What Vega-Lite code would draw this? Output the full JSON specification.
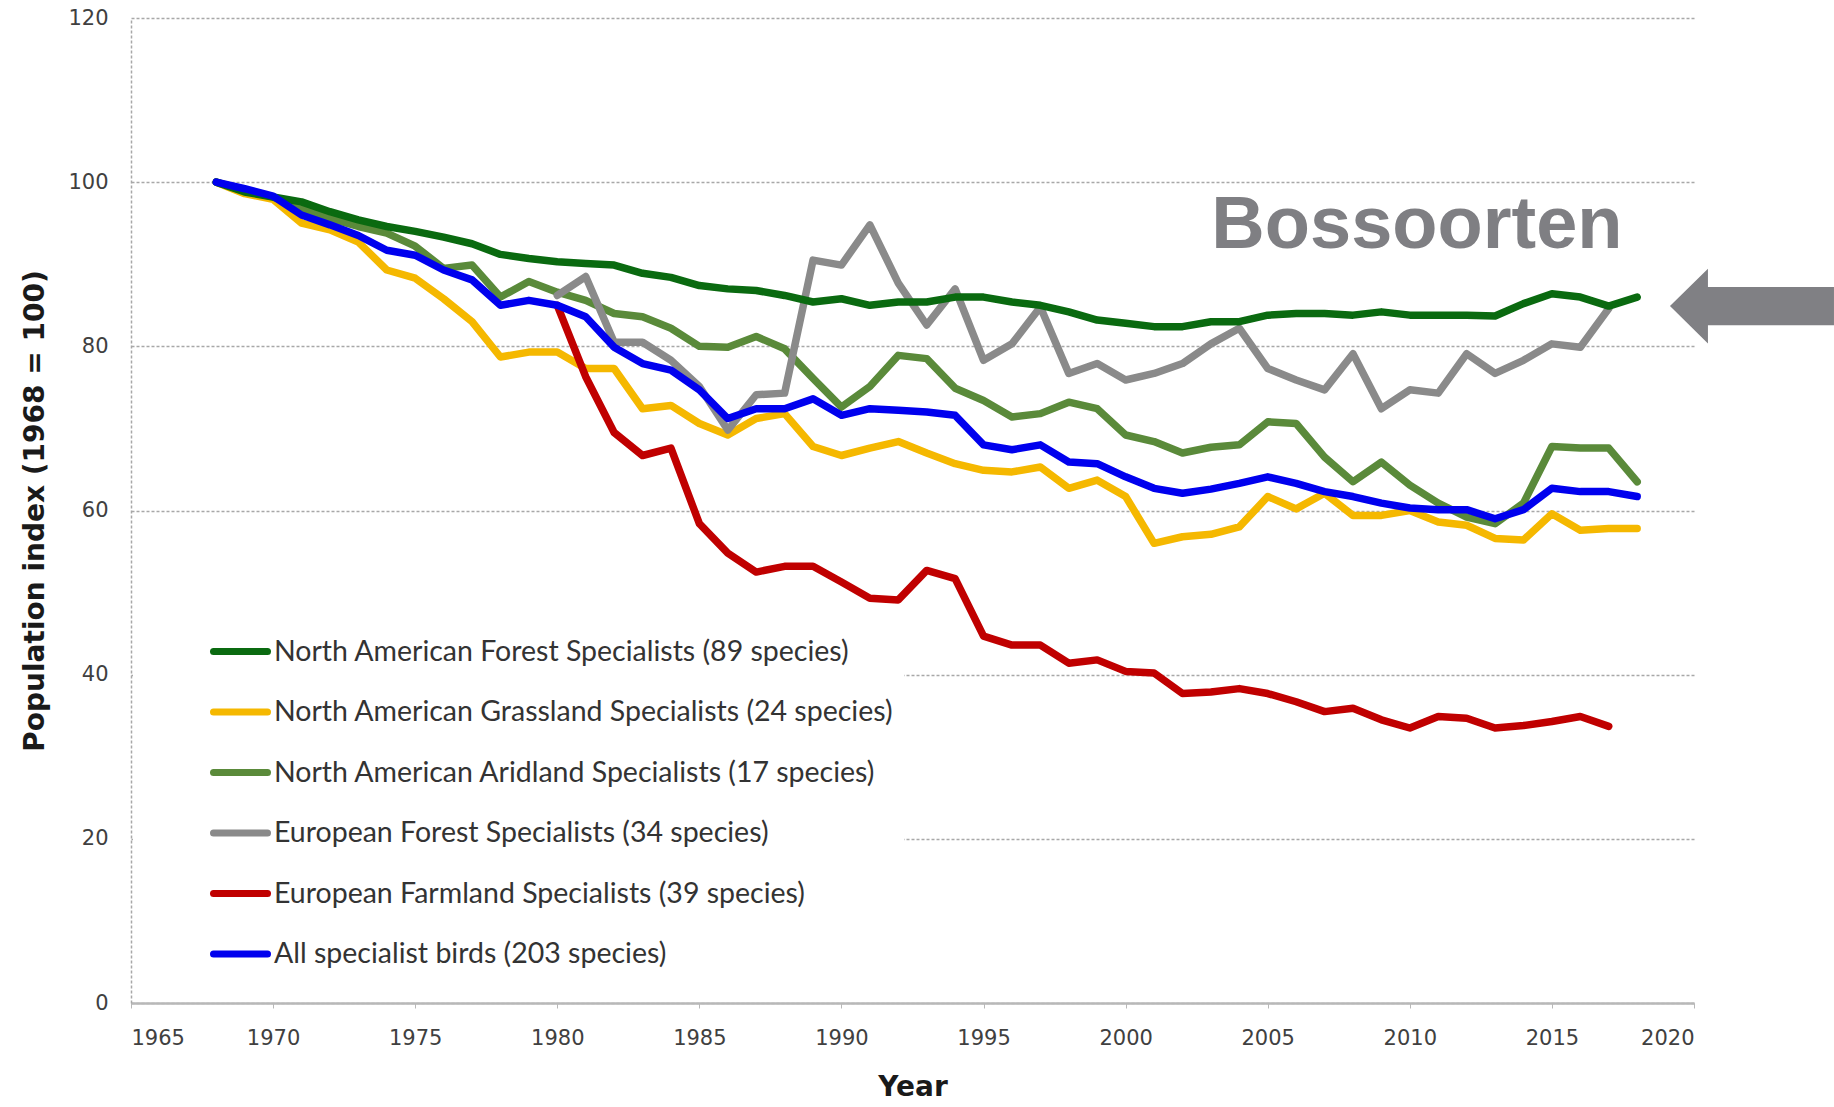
{
  "$schema": "https://vega.github.io/schema/vega-lite/v6.json",
  "width": 1563,
  "height": 985,
  "autosize": {"type": "none"},
  "padding": {"left": 131, "top": 18, "right": 140, "bottom": 104},
  "background": "white",
  "config": {"view": {"stroke": null}, "font": "DejaVu Sans"},
  "datasets": {
    "names": [
      {"k": "F", "name": "North American Forest Specialists (89 species)"},
      {"k": "G", "name": "North American Grassland Specialists (24 species)"},
      {"k": "A", "name": "North American Aridland Specialists (17 species)"},
      {"k": "E", "name": "European Forest Specialists (34 species)"},
      {"k": "R", "name": "European Farmland Specialists (39 species)"},
      {"k": "B", "name": "All specialist birds (203 species)"}
    ],
    "series": [
      {"k":"G","year":1968,"v":100},{"k":"G","year":1969,"v":98.6},{"k":"G","year":1970,"v":97.9},{"k":"G","year":1971,"v":95.0},{"k":"G","year":1972,"v":94.2},{"k":"G","year":1973,"v":92.7},{"k":"G","year":1974,"v":89.3},{"k":"G","year":1975,"v":88.3},{"k":"G","year":1976,"v":85.8},{"k":"G","year":1977,"v":83.0},{"k":"G","year":1978,"v":78.7},{"k":"G","year":1979,"v":79.3},{"k":"G","year":1980,"v":79.3},{"k":"G","year":1981,"v":77.3},{"k":"G","year":1982,"v":77.3},{"k":"G","year":1983,"v":72.4},{"k":"G","year":1984,"v":72.8},{"k":"G","year":1985,"v":70.6},{"k":"G","year":1986,"v":69.2},{"k":"G","year":1987,"v":71.2},{"k":"G","year":1988,"v":71.8},{"k":"G","year":1989,"v":67.8},{"k":"G","year":1990,"v":66.7},{"k":"G","year":1991,"v":67.6},{"k":"G","year":1992,"v":68.4},{"k":"G","year":1993,"v":67.0},{"k":"G","year":1994,"v":65.7},{"k":"G","year":1995,"v":64.9},{"k":"G","year":1996,"v":64.7},{"k":"G","year":1997,"v":65.3},{"k":"G","year":1998,"v":62.7},{"k":"G","year":1999,"v":63.7},{"k":"G","year":2000,"v":61.7},{"k":"G","year":2001,"v":56.0},{"k":"G","year":2002,"v":56.8},{"k":"G","year":2003,"v":57.1},{"k":"G","year":2004,"v":58.0},{"k":"G","year":2005,"v":61.7},{"k":"G","year":2006,"v":60.2},{"k":"G","year":2007,"v":62.1},{"k":"G","year":2008,"v":59.4},{"k":"G","year":2009,"v":59.4},{"k":"G","year":2010,"v":60.0},{"k":"G","year":2011,"v":58.6},{"k":"G","year":2012,"v":58.2},{"k":"G","year":2013,"v":56.6},{"k":"G","year":2014,"v":56.4},{"k":"G","year":2015,"v":59.6},{"k":"G","year":2016,"v":57.6},{"k":"G","year":2017,"v":57.8},{"k":"G","year":2018,"v":57.8},
      {"k":"R","year":1980,"v":85.0},{"k":"R","year":1981,"v":76.3},{"k":"R","year":1982,"v":69.5},{"k":"R","year":1983,"v":66.7},{"k":"R","year":1984,"v":67.6},{"k":"R","year":1985,"v":58.4},{"k":"R","year":1986,"v":54.8},{"k":"R","year":1987,"v":52.5},{"k":"R","year":1988,"v":53.2},{"k":"R","year":1989,"v":53.2},{"k":"R","year":1990,"v":51.3},{"k":"R","year":1991,"v":49.3},{"k":"R","year":1992,"v":49.1},{"k":"R","year":1993,"v":52.7},{"k":"R","year":1994,"v":51.7},{"k":"R","year":1995,"v":44.7},{"k":"R","year":1996,"v":43.6},{"k":"R","year":1997,"v":43.6},{"k":"R","year":1998,"v":41.4},{"k":"R","year":1999,"v":41.8},{"k":"R","year":2000,"v":40.4},{"k":"R","year":2001,"v":40.2},{"k":"R","year":2002,"v":37.7},{"k":"R","year":2003,"v":37.9},{"k":"R","year":2004,"v":38.3},{"k":"R","year":2005,"v":37.7},{"k":"R","year":2006,"v":36.7},{"k":"R","year":2007,"v":35.5},{"k":"R","year":2008,"v":35.9},{"k":"R","year":2009,"v":34.5},{"k":"R","year":2010,"v":33.5},{"k":"R","year":2011,"v":34.9},{"k":"R","year":2012,"v":34.7},{"k":"R","year":2013,"v":33.5},{"k":"R","year":2014,"v":33.8},{"k":"R","year":2015,"v":34.3},{"k":"R","year":2016,"v":34.9},{"k":"R","year":2017,"v":33.7},
      {"k":"A","year":1968,"v":100},{"k":"A","year":1969,"v":99.0},{"k":"A","year":1970,"v":98.2},{"k":"A","year":1971,"v":96.8},{"k":"A","year":1972,"v":95.6},{"k":"A","year":1973,"v":94.6},{"k":"A","year":1974,"v":93.8},{"k":"A","year":1975,"v":92.2},{"k":"A","year":1976,"v":89.5},{"k":"A","year":1977,"v":89.9},{"k":"A","year":1978,"v":86.0},{"k":"A","year":1979,"v":87.9},{"k":"A","year":1980,"v":86.6},{"k":"A","year":1981,"v":85.6},{"k":"A","year":1982,"v":84.0},{"k":"A","year":1983,"v":83.6},{"k":"A","year":1984,"v":82.2},{"k":"A","year":1985,"v":80.0},{"k":"A","year":1986,"v":79.9},{"k":"A","year":1987,"v":81.2},{"k":"A","year":1988,"v":79.7},{"k":"A","year":1989,"v":76.1},{"k":"A","year":1990,"v":72.6},{"k":"A","year":1991,"v":75.1},{"k":"A","year":1992,"v":78.9},{"k":"A","year":1993,"v":78.5},{"k":"A","year":1994,"v":74.9},{"k":"A","year":1995,"v":73.4},{"k":"A","year":1996,"v":71.4},{"k":"A","year":1997,"v":71.8},{"k":"A","year":1998,"v":73.2},{"k":"A","year":1999,"v":72.4},{"k":"A","year":2000,"v":69.2},{"k":"A","year":2001,"v":68.4},{"k":"A","year":2002,"v":67.0},{"k":"A","year":2003,"v":67.7},{"k":"A","year":2004,"v":68.0},{"k":"A","year":2005,"v":70.8},{"k":"A","year":2006,"v":70.6},{"k":"A","year":2007,"v":66.5},{"k":"A","year":2008,"v":63.5},{"k":"A","year":2009,"v":65.9},{"k":"A","year":2010,"v":63.1},{"k":"A","year":2011,"v":60.9},{"k":"A","year":2012,"v":59.2},{"k":"A","year":2013,"v":58.4},{"k":"A","year":2014,"v":60.9},{"k":"A","year":2015,"v":67.8},{"k":"A","year":2016,"v":67.6},{"k":"A","year":2017,"v":67.6},{"k":"A","year":2018,"v":63.5},
      {"k":"E","year":1980,"v":86.2},{"k":"E","year":1981,"v":88.5},{"k":"E","year":1982,"v":80.5},{"k":"E","year":1983,"v":80.5},{"k":"E","year":1984,"v":78.3},{"k":"E","year":1985,"v":75.1},{"k":"E","year":1986,"v":69.8},{"k":"E","year":1987,"v":74.1},{"k":"E","year":1988,"v":74.3},{"k":"E","year":1989,"v":90.5},{"k":"E","year":1990,"v":89.9},{"k":"E","year":1991,"v":94.8},{"k":"E","year":1992,"v":87.7},{"k":"E","year":1993,"v":82.6},{"k":"E","year":1994,"v":87.0},{"k":"E","year":1995,"v":78.3},{"k":"E","year":1996,"v":80.3},{"k":"E","year":1997,"v":84.8},{"k":"E","year":1998,"v":76.7},{"k":"E","year":1999,"v":77.9},{"k":"E","year":2000,"v":75.9},{"k":"E","year":2001,"v":76.7},{"k":"E","year":2002,"v":77.9},{"k":"E","year":2003,"v":80.3},{"k":"E","year":2004,"v":82.2},{"k":"E","year":2005,"v":77.3},{"k":"E","year":2006,"v":75.9},{"k":"E","year":2007,"v":74.7},{"k":"E","year":2008,"v":79.1},{"k":"E","year":2009,"v":72.4},{"k":"E","year":2010,"v":74.7},{"k":"E","year":2011,"v":74.3},{"k":"E","year":2012,"v":79.1},{"k":"E","year":2013,"v":76.7},{"k":"E","year":2014,"v":78.3},{"k":"E","year":2015,"v":80.3},{"k":"E","year":2016,"v":79.9},{"k":"E","year":2017,"v":84.6},
      {"k":"F","year":1968,"v":100},{"k":"F","year":1969,"v":98.8},{"k":"F","year":1970,"v":98.2},{"k":"F","year":1971,"v":97.6},{"k":"F","year":1972,"v":96.4},{"k":"F","year":1973,"v":95.4},{"k":"F","year":1974,"v":94.6},{"k":"F","year":1975,"v":94.0},{"k":"F","year":1976,"v":93.3},{"k":"F","year":1977,"v":92.5},{"k":"F","year":1978,"v":91.2},{"k":"F","year":1979,"v":90.7},{"k":"F","year":1980,"v":90.3},{"k":"F","year":1981,"v":90.1},{"k":"F","year":1982,"v":89.9},{"k":"F","year":1983,"v":88.9},{"k":"F","year":1984,"v":88.4},{"k":"F","year":1985,"v":87.4},{"k":"F","year":1986,"v":87.0},{"k":"F","year":1987,"v":86.8},{"k":"F","year":1988,"v":86.2},{"k":"F","year":1989,"v":85.4},{"k":"F","year":1990,"v":85.8},{"k":"F","year":1991,"v":85.0},{"k":"F","year":1992,"v":85.4},{"k":"F","year":1993,"v":85.4},{"k":"F","year":1994,"v":86.0},{"k":"F","year":1995,"v":86.0},{"k":"F","year":1996,"v":85.4},{"k":"F","year":1997,"v":85.0},{"k":"F","year":1998,"v":84.2},{"k":"F","year":1999,"v":83.2},{"k":"F","year":2000,"v":82.8},{"k":"F","year":2001,"v":82.4},{"k":"F","year":2002,"v":82.4},{"k":"F","year":2003,"v":83.0},{"k":"F","year":2004,"v":83.0},{"k":"F","year":2005,"v":83.8},{"k":"F","year":2006,"v":84.0},{"k":"F","year":2007,"v":84.0},{"k":"F","year":2008,"v":83.8},{"k":"F","year":2009,"v":84.2},{"k":"F","year":2010,"v":83.8},{"k":"F","year":2011,"v":83.8},{"k":"F","year":2012,"v":83.8},{"k":"F","year":2013,"v":83.7},{"k":"F","year":2014,"v":85.2},{"k":"F","year":2015,"v":86.4},{"k":"F","year":2016,"v":86.0},{"k":"F","year":2017,"v":84.9},{"k":"F","year":2018,"v":86.0},
      {"k":"B","year":1968,"v":100},{"k":"B","year":1969,"v":99.2},{"k":"B","year":1970,"v":98.3},{"k":"B","year":1971,"v":96.0},{"k":"B","year":1972,"v":94.8},{"k":"B","year":1973,"v":93.5},{"k":"B","year":1974,"v":91.7},{"k":"B","year":1975,"v":91.1},{"k":"B","year":1976,"v":89.3},{"k":"B","year":1977,"v":88.1},{"k":"B","year":1978,"v":85.0},{"k":"B","year":1979,"v":85.6},{"k":"B","year":1980,"v":85.0},{"k":"B","year":1981,"v":83.6},{"k":"B","year":1982,"v":79.9},{"k":"B","year":1983,"v":77.9},{"k":"B","year":1984,"v":77.1},{"k":"B","year":1985,"v":74.7},{"k":"B","year":1986,"v":71.2},{"k":"B","year":1987,"v":72.4},{"k":"B","year":1988,"v":72.4},{"k":"B","year":1989,"v":73.6},{"k":"B","year":1990,"v":71.6},{"k":"B","year":1991,"v":72.4},{"k":"B","year":1992,"v":72.2},{"k":"B","year":1993,"v":72.0},{"k":"B","year":1994,"v":71.6},{"k":"B","year":1995,"v":68.0},{"k":"B","year":1996,"v":67.4},{"k":"B","year":1997,"v":68.0},{"k":"B","year":1998,"v":65.9},{"k":"B","year":1999,"v":65.7},{"k":"B","year":2000,"v":64.1},{"k":"B","year":2001,"v":62.7},{"k":"B","year":2002,"v":62.1},{"k":"B","year":2003,"v":62.6},{"k":"B","year":2004,"v":63.3},{"k":"B","year":2005,"v":64.1},{"k":"B","year":2006,"v":63.3},{"k":"B","year":2007,"v":62.3},{"k":"B","year":2008,"v":61.7},{"k":"B","year":2009,"v":60.9},{"k":"B","year":2010,"v":60.3},{"k":"B","year":2011,"v":60.1},{"k":"B","year":2012,"v":60.1},{"k":"B","year":2013,"v":59.0},{"k":"B","year":2014,"v":60.1},{"k":"B","year":2015,"v":62.7},{"k":"B","year":2016,"v":62.3},{"k":"B","year":2017,"v":62.3},{"k":"B","year":2018,"v":61.7}
    ],
    "notes": [
      {"label": "Bossoorten", "year": 2010.25, "v": 91.96}
    ],
    "arrow": [
      {"year": 2022.04, "v": 84.9}
    ]
  },
  "layer": [
    {
      "data": {"name": "series"},
      "transform": [
        {"lookup": "k", "from": {"data": {"name": "names"}, "key": "k", "fields": ["name"]}}
      ],
      "mark": {"type": "line", "strokeWidth": 7.5, "strokeJoin": "round", "strokeCap": "round"},
      "encoding": {
        "x": {
          "field": "year", "type": "quantitative",
          "scale": {"domain": [1965, 2020], "nice": false, "zero": false},
          "axis": {
            "values": [1965, 1970, 1975, 1980, 1985, 1990, 1995, 2000, 2005, 2010, 2015, 2020],
            "format": "d", "title": "Year", "grid": false,
            "domainColor": "#b8b8b8", "domainWidth": 2.5,
            "tickColor": "#b8b8b8", "tickSize": 5, "tickWidth": 1,
            "labelFont": "DejaVu Sans", "labelFontSize": 21, "labelColor": "#404040", "labelPadding": 19,
            "titleFont": "DejaVu Sans", "titleFontWeight": "bold", "titleFontSize": 28, "titleColor": "#1a1a1a", "titlePadding": 25
          }
        },
        "y": {
          "field": "v", "type": "quantitative",
          "scale": {"domain": [0, 120], "nice": false},
          "axis": {
            "values": [0, 20, 40, 60, 80, 100, 120],
            "title": "Population index (1968 = 100)",
            "grid": true, "gridColor": "#a8a8a8", "gridDash": [3, 2], "gridWidth": 1.5,
            "domainColor": "#a8a8a8", "domainDash": [3, 2], "domainWidth": 1.5,
            "ticks": false,
            "labelFont": "DejaVu Sans", "labelFontSize": 21, "labelColor": "#404040", "labelPadding": 23,
            "titleFont": "DejaVu Sans", "titleFontWeight": "bold", "titleFontSize": 28, "titleColor": "#1a1a1a", "titlePadding": 18
          }
        },
        "color": {
          "field": "name", "type": "nominal",
          "scale": {
            "domain": [
              "North American Forest Specialists (89 species)",
              "North American Grassland Specialists (24 species)",
              "North American Aridland Specialists (17 species)",
              "European Forest Specialists (34 species)",
              "European Farmland Specialists (39 species)",
              "All specialist birds (203 species)"
            ],
            "range": ["#0a6a10", "#f5b800", "#5a8a3a", "#8a8a8a", "#c00000", "#0000ee"]
          },
          "legend": {
            "orient": "none", "legendX": 2, "legendY": 593, "title": null,
            "symbolType": "stroke", "symbolStrokeWidth": 7, "symbolSize": 2916, "symbolOffset": 67,
            "labelFont": "Lato", "labelFontSize": 28.5, "labelColor": "#333333", "labelOffset": 3, "labelLimit": 0,
            "rowPadding": 15.5, "padding": 10, "fillColor": "white",
            "encode": {"symbols": {"update": {"strokeCap": {"value": "round"}}}}
          }
        }
      }
    },
    {
      "data": {"name": "notes"},
      "mark": {"type": "text", "font": "Liberation Sans", "fontWeight": "bold", "fontSize": 74, "color": "#7f7f83", "align": "center", "baseline": "alphabetic"},
      "encoding": {
        "x": {"field": "year", "type": "quantitative", "scale": {"domain": [1965, 2020], "nice": false, "zero": false}},
        "y": {"field": "v", "type": "quantitative", "scale": {"domain": [0, 120], "nice": false}},
        "text": {"field": "label"}
      }
    },
    {
      "data": {"name": "arrow"},
      "mark": {"type": "point", "shape": "M-1,0L-0.537,-0.457L-0.537,-0.232L1,-0.232L1,0.232L-0.537,0.232L-0.537,0.457Z", "size": 26896, "filled": true, "color": "#808084", "opacity": 1, "strokeWidth": 0},
      "encoding": {
        "x": {"field": "year", "type": "quantitative", "scale": {"domain": [1965, 2020], "nice": false, "zero": false}},
        "y": {"field": "v", "type": "quantitative", "scale": {"domain": [0, 120], "nice": false}}
      }
    }
  ]
}
